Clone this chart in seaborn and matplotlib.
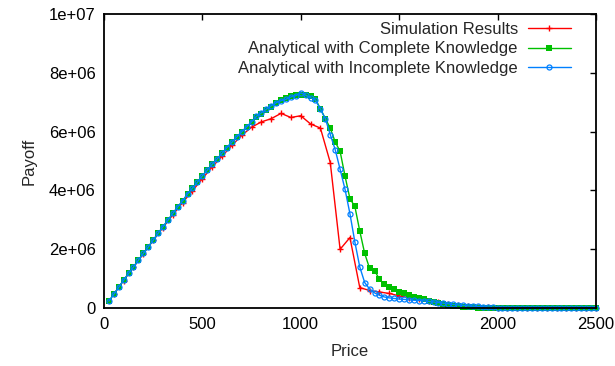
import matplotlib
matplotlib.use("Agg")
import matplotlib.pyplot as plt
import numpy as np
import seaborn as sns

# ── Data (payoff values in units of 1e6) ─────────────────────────────────────
price_analytic = np.arange(25, 2501, 25)
price_sim = np.arange(50, 2501, 50)

payoff_complete = [
    0.24, 0.47, 0.71, 0.95, 1.18, 1.40, 1.63, 1.86, 2.08, 2.31,
    2.54, 2.77, 2.99, 3.22, 3.44, 3.65, 3.88, 4.08, 4.28, 4.50,
    4.69, 4.89, 5.07, 5.26, 5.46, 5.64, 5.82, 5.99, 6.16, 6.32,
    6.48, 6.61, 6.73, 6.84, 6.96, 7.06, 7.13, 7.20, 7.24, 7.26,
    7.25, 7.20, 7.10, 6.78, 6.44, 6.12, 5.65, 5.33, 4.49, 3.72,
    3.46, 2.62, 1.86, 1.35, 1.28, 0.98, 0.82, 0.71, 0.64, 0.56,
    0.50, 0.44, 0.39, 0.34, 0.30, 0.26, 0.22, 0.18, 0.15, 0.12,
    0.09, 0.07, 0.05, 0.04, 0.03, 0.02, 0.01, 0.005, 0.0, 0.0,
    0.0, 0.0, 0.0, 0.0, 0.0, 0.0, 0.0, 0.0, 0.0, 0.0,
    0.0, 0.0, 0.0, 0.0, 0.0, 0.0, 0.0, 0.0, 0.0, 0.0,
]

payoff_incomplete = [
    0.24, 0.47, 0.71, 0.95, 1.18, 1.40, 1.63, 1.86, 2.08, 2.31,
    2.54, 2.77, 2.99, 3.22, 3.44, 3.65, 3.88, 4.08, 4.28, 4.50,
    4.69, 4.89, 5.07, 5.26, 5.46, 5.64, 5.82, 5.99, 6.16, 6.33,
    6.52, 6.64, 6.76, 6.88, 6.98, 7.05, 7.10, 7.18, 7.22, 7.32,
    7.24, 7.15, 7.07, 6.76, 6.44, 5.90, 5.39, 4.72, 4.04, 3.21,
    2.25, 1.40, 0.87, 0.65, 0.52, 0.44, 0.38, 0.35, 0.33, 0.31,
    0.30, 0.28, 0.27, 0.26, 0.25, 0.23, 0.21, 0.19, 0.17, 0.15,
    0.13, 0.11, 0.10, 0.08, 0.07, 0.06, 0.05, 0.04, 0.03, 0.02,
    0.015, 0.01, 0.005, 0.0, 0.0, 0.0, 0.0, 0.0, 0.0, 0.0,
    0.0, 0.0, 0.0, 0.0, 0.0, 0.0, 0.0, 0.0, 0.0, 0.0,
]

payoff_sim = [
    0.47, 0.94, 1.39, 1.85, 2.30, 2.74, 3.17, 3.59, 3.99, 4.40,
    4.80, 5.16, 5.53, 5.87, 6.15, 6.33, 6.44, 6.62, 6.48, 6.54,
    6.26, 6.12, 4.95, 2.00, 2.40, 0.70, 0.60, 0.55, 0.50, 0.42,
    0.36, 0.30, 0.25, 0.20, 0.15, 0.11, 0.08, 0.05, 0.03, 0.02,
    0.01, 0.0, 0.0, 0.0, 0.0, 0.0, 0.0, 0.0, 0.0, 0.0,
]

x_ticks = [0, 500, 1000, 1500, 2000, 2500]
y_ticks = [0, 2e6, 4e6, 6e6, 8e6, 1e7]
y_tick_labels = ["0", "2e+06", "4e+06", "6e+06", "8e+06", "1e+07"]

# ── Figure ───────────────────────────────────────────────────────────────────
sns.set_style("white")
plt.rcParams["font.family"] = ["Liberation Sans", "DejaVu Sans"]

fig = plt.figure(figsize=(6.15, 3.66), dpi=100)
ax = fig.add_axes([0.169, 0.158, 0.8, 0.804])

scale = 1e6
sns.lineplot(x=price_sim, y=np.array(payoff_sim) * scale, ax=ax,
             color="#ff0000", lw=1, marker="+", markersize=5, mew=1,
             mec="#ff0000",
             label="Simulation Results", estimator=None, sort=False,
             clip_on=False)
sns.lineplot(x=price_analytic, y=np.array(payoff_complete) * scale, ax=ax,
             color="#00c000", lw=1, marker="s", markersize=4.2, mew=0,
             mec="#00c000",
             label="Analytical with Complete Knowledge", estimator=None,
             sort=False, clip_on=False)
sns.lineplot(x=price_analytic, y=np.array(payoff_incomplete) * scale, ax=ax,
             color="#0080ff", lw=1, marker="o", markersize=3.6, mew=0.9,
             mfc="none", mec="#0080ff",
             label="Analytical with Incomplete Knowledge", estimator=None,
             sort=False, clip_on=False)

ax.set_xlim(0, 2500)
ax.set_ylim(0, 1e7)
ax.set_xticks(x_ticks)
ax.set_xticklabels([str(t) for t in x_ticks])
ax.set_yticks(y_ticks)
ax.set_yticklabels(y_tick_labels)
ax.tick_params(direction="in", top=True, right=True, length=4, width=1,
               labelsize=12, pad=6, colors="black")
for s in ax.spines.values():
    s.set_linewidth(1.3)
    s.set_color("black")

ax.set_xlabel("Price", fontsize=12, labelpad=9)
ax.set_ylabel("Payoff", fontsize=12, labelpad=9)

ax.legend(loc="upper right", frameon=False, markerfirst=False,
          fontsize=12, handlelength=2.6, handletextpad=0.6,
          labelspacing=0.27, borderaxespad=0.35,
          bbox_to_anchor=(0.975, 1.015))

fig.savefig("out.png", dpi=100)
